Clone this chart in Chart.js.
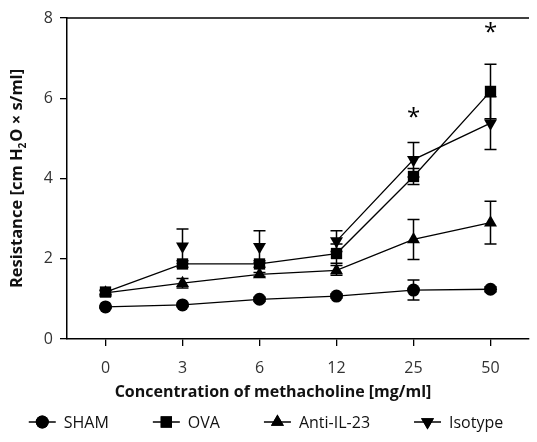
<!DOCTYPE html>
<html>
<head>
<meta charset="utf-8">
<script src="https://cdn.jsdelivr.net/npm/chart.js@4/dist/chart.umd.min.js"></script>
<style>
  html, body { margin: 0; padding: 0; background: #fff; }
  #wrap { width: 537px; height: 442px; }
</style>
</head>
<body>
<div id="wrap"><canvas id="resistance-chart"></canvas></div>
<script>
// doses of methacholine [mg/ml]
const doses = ['0', '3', '6', '12', '25', '50'];

// mean resistance per group
const shamValues = [0.80, 0.85, 0.99, 1.07, 1.22, 1.24];
const ovaValues = [1.17, 1.87, 1.87, 2.13, 4.05, 6.17];
const antiValues = [1.15, 1.39, 1.61, 1.71, 2.48, 2.90];
const isoValues = [null, 2.31, 2.30, 2.44, 4.47, 5.38];

// error bars (+/-)
const shamErr = [0.03, 0.04, 0.05, 0.05, 0.25, 0.06];
const ovaErr = [0.05, 0.08, 0.08, 0.24, 0.20, 0.68];
const antiErr = [0.05, 0.12, 0.05, 0.12, 0.50, 0.53];
const isoErr = [0, 0.43, 0.40, 0.26, 0.43, 0.66];

// significance marks
const starDoses = ['25', '50'];
const starValues = [5.64, 7.74];

const yTicks = [0, 2, 4, 6, 8];

const xTitle = 'Concentration of methacholine [mg/ml]';
const yTitle = ['Resistance [cm H', '2', 'O \u00d7 s/ml]'];  // middle part is subscript

const FONT = "'Open Sans', 'DejaVu Sans', sans-serif";

// error bars under the markers
const errorBars = {
    id: 'errorBars',
    beforeDatasetsDraw(chart) {
        const ctx = chart.ctx;
        const x = chart.scales.x, y = chart.scales.y;
        ctx.save();
        ctx.strokeStyle = '#000';
        ctx.lineWidth = 1.5;
        chart.data.datasets.forEach(ds => {
            ds.data.forEach((v, i) => {
                const e = ds.errors[i];
                if (v === null || !e) return;
                const px = x.getPixelForValue(i);
                const top = y.getPixelForValue(v + e);
                const bot = y.getPixelForValue(v - e);
                ctx.beginPath();
                ctx.moveTo(px, top); ctx.lineTo(px, bot);
                ctx.moveTo(px - 6, top); ctx.lineTo(px + 6, top);
                ctx.moveTo(px - 6, bot); ctx.lineTo(px + 6, bot);
                ctx.stroke();
            });
        });
        ctx.restore();
    }
};

// top frame line, axis titles, asterisks and the legend
const extras = {
    id: 'extras',
    afterDraw(chart) {
        const ctx = chart.ctx;
        const area = chart.chartArea;
        const x = chart.scales.x, y = chart.scales.y;
        ctx.save();
        ctx.strokeStyle = '#000';
        ctx.lineWidth = 1.5;
        ctx.beginPath();
        ctx.moveTo(area.left, area.top);
        ctx.lineTo(area.right, area.top);
        ctx.stroke();

        // axis titles
        ctx.fillStyle = '#111';
        ctx.textBaseline = 'middle';
        ctx.textAlign = 'center';
        ctx.font = 'bold 16px ' + FONT;
        ctx.fillText(xTitle, 273, 392);

        ctx.save();
        ctx.translate(17, (area.top + area.bottom) / 2);
        ctx.rotate(-Math.PI / 2);
        ctx.textAlign = 'left';
        const big = 'bold 16.5px ' + FONT, small = 'bold 10px ' + FONT;
        ctx.font = big;
        const w0 = ctx.measureText(yTitle[0]).width, w2 = ctx.measureText(yTitle[2]).width;
        ctx.font = small;
        const w1 = ctx.measureText(yTitle[1]).width + 1;
        let tx = -(w0 + w1 + w2) / 2;
        ctx.font = big;
        ctx.fillText(yTitle[0], tx, 0);
        tx += w0;
        ctx.font = small;
        ctx.fillText(yTitle[1], tx, 6);
        tx += w1;
        ctx.font = big;
        ctx.fillText(yTitle[2], tx, 0);
        ctx.restore();

        ctx.fillStyle = '#000';
        ctx.font = '24px ' + FONT;
        ctx.textAlign = 'center';
        starDoses.forEach((d, i) => {
            ctx.fillText('*', x.getPixelForValue(doses.indexOf(d)), y.getPixelForValue(starValues[i]) + 5);
        });

        // legend: line + marker + label
        ctx.font = '16px ' + FONT;
        ctx.textAlign = 'left';
        const lineW = 27, gapText = 8, gapItem = 44, ly = 422;
        const items = chart.data.datasets.map(ds => ({ ds, w: lineW + gapText + ctx.measureText(ds.label).width }));
        const total = items.reduce((s, it) => s + it.w, 0) + gapItem * (items.length - 1);
        let lx = 266 - total / 2;
        items.forEach(it => {
            ctx.fillStyle = '#000';
            ctx.lineWidth = 1.5;
            ctx.beginPath();
            ctx.moveTo(lx, ly); ctx.lineTo(lx + lineW, ly);
            ctx.stroke();
            Chart.helpers.drawPoint(ctx, {
                pointStyle: it.ds.pointStyle,
                radius: it.ds.pointRadius,
                rotation: it.ds.pointRotation || 0,
                borderWidth: 0
            }, lx + lineW / 2, ly);
            ctx.fill();
            ctx.fillStyle = '#111';
            ctx.fillText(it.ds.label, lx + lineW + gapText, ly + 1);
            lx += it.w + gapItem;
        });
        ctx.restore();
    }
};

const baseSet = {
    borderColor: '#000',
    backgroundColor: '#000',
    pointBackgroundColor: '#000',
    pointBorderColor: '#000',
    borderWidth: 1.3,
    pointBorderWidth: 0,
    tension: 0
};

const ctx = document.getElementById('resistance-chart').getContext('2d');
const chart = new Chart(ctx, {
    type: 'line',
    data: {
        labels: doses,
        datasets: [
            Object.assign({}, baseSet, { label: 'SHAM', data: shamValues, errors: shamErr, pointStyle: 'circle', pointRadius: 6.5 }),
            Object.assign({}, baseSet, { label: 'OVA', data: ovaValues, errors: ovaErr, pointStyle: 'rect', pointRadius: 8 }),
            Object.assign({}, baseSet, { label: 'Anti-IL-23', data: antiValues, errors: antiErr, pointStyle: 'triangle', pointRadius: 7.5 }),
            Object.assign({}, baseSet, {
                label: 'Isotype', data: isoValues, errors: isoErr, pointStyle: 'triangle', pointRadius: 7.5, pointRotation: 180,
                spanGaps: true,
                segment: {
                    borderColor: c => c.p0DataIndex < 3 ? 'rgba(0,0,0,0)' : '#000'
                }
            })
        ]
    },
    options: {
        responsive: true,
        maintainAspectRatio: false,
        animation: false,
        layout: { padding: { left: 0, right: 0, top: 18, bottom: 33 } },
        scales: {
            x: {
                type: 'category',
                offset: true,
                afterFit: s => { s.height = 70; },
                border: { color: '#000', width: 1.5 },
                grid: { drawOnChartArea: false, drawTicks: true, tickLength: 7, color: '#000', lineWidth: 1.3 },
                ticks: { color: '#333', font: { family: FONT, size: 16 }, padding: 13 }
            },
            y: {
                min: 0,
                max: 8,
                afterFit: s => { s.width = 67; },
                afterBuildTicks: s => { s.ticks = yTicks.map(v => ({ value: v })); },
                border: { color: '#000', width: 1.5 },
                grid: { drawOnChartArea: false, drawTicks: true, tickLength: 7, color: '#000', lineWidth: 1.3 },
                ticks: { color: '#333', font: { family: FONT, size: 16 }, padding: 7 }
            }
        },
        plugins: {
            legend: { display: false },
            tooltip: { enabled: false }
        }
    },
    plugins: [errorBars, extras]
});
</script>
</body>
</html>
